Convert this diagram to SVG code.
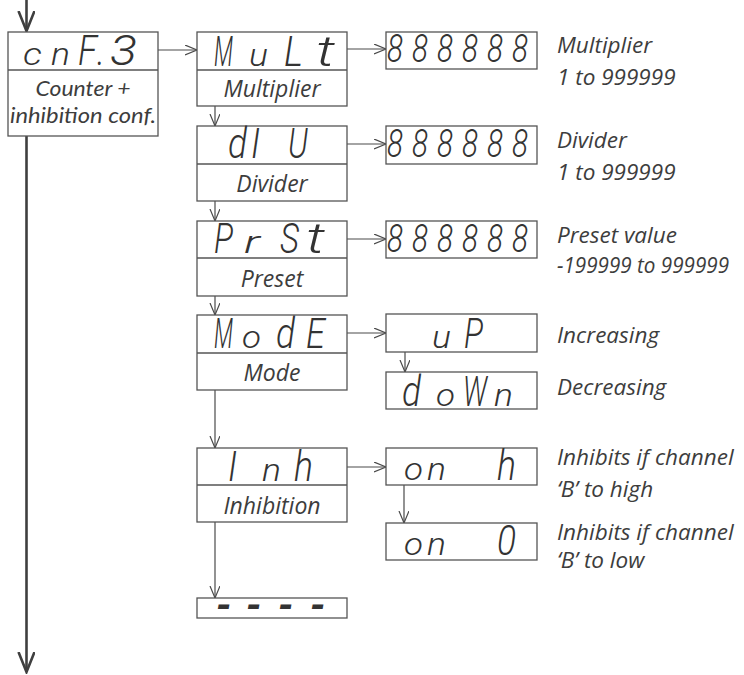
<svg xmlns="http://www.w3.org/2000/svg" width="744" height="675" viewBox="0 0 744 675">
<style>
.box{fill:#fff;stroke:#555;stroke-width:1.3}
.div{stroke:#555;stroke-width:1.3}
.con{fill:none;stroke:#4a4a4a;stroke-width:1.2}
.main{fill:none;stroke:#3f3f3f;stroke-width:2.6}
.seg{font-family:Roboto,"Liberation Sans",Arial,sans-serif;font-weight:300;font-style:italic;font-size:42px;fill:#333}
.lc{font-size:31px}
.dig{font-family:Roboto,"Liberation Sans",Arial,sans-serif;font-weight:300;font-style:italic;font-size:38px;fill:#333}
.lbl{font-family:"Open Sans","Liberation Sans",sans-serif;font-style:italic;font-size:22.5px;fill:#3d3d3d}
.blbl{font-size:23px}
.llbl{font-family:Lato,"Open Sans",sans-serif;font-size:22px}
.mid{text-anchor:middle}
</style>
<defs>
<marker id="ah" markerUnits="userSpaceOnUse" markerWidth="14" markerHeight="12" refX="12" refY="5" orient="auto" viewBox="0 0 14 12">
<path d="M0,0 L12,5 L0,10" fill="none" stroke="#4a4a4a" stroke-width="1.2"/>
</marker>
<marker id="ahm" markerUnits="userSpaceOnUse" markerWidth="22" markerHeight="18" refX="20" refY="8" orient="auto" viewBox="0 0 22 18">
<path d="M0,0 L20,8 L0,16" fill="none" stroke="#3f3f3f" stroke-width="2.6"/>
</marker>
</defs>

<g id="connectors">
<line class="main" x1="26.5" y1="0" x2="26.5" y2="31" marker-end="url(#ahm)"/>
<line class="main" x1="26.5" y1="136" x2="26.5" y2="672" marker-end="url(#ahm)"/>
<line class="con" x1="158" y1="50" x2="197" y2="50" marker-end="url(#ah)"/>
<line class="con" x1="347" y1="49" x2="386" y2="49" marker-end="url(#ah)"/>
<line class="con" x1="215" y1="106" x2="215" y2="126" marker-end="url(#ah)"/>
<line class="con" x1="347" y1="144" x2="386" y2="144" marker-end="url(#ah)"/>
<line class="con" x1="215" y1="201" x2="215" y2="221" marker-end="url(#ah)"/>
<line class="con" x1="347" y1="239" x2="386" y2="239" marker-end="url(#ah)"/>
<line class="con" x1="215" y1="296" x2="215" y2="315" marker-end="url(#ah)"/>
<line class="con" x1="347" y1="333" x2="386" y2="333" marker-end="url(#ah)"/>
<line class="con" x1="405" y1="352" x2="405" y2="372" marker-end="url(#ah)"/>
<line class="con" x1="215" y1="390" x2="215" y2="448" marker-end="url(#ah)"/>
<line class="con" x1="347" y1="467" x2="386" y2="467" marker-end="url(#ah)"/>
<line class="con" x1="404" y1="485" x2="404" y2="523" marker-end="url(#ah)"/>
<line class="con" x1="215" y1="522" x2="215" y2="598" marker-end="url(#ah)"/>
</g>

<g id="cnf3">
<rect class="box" x="8" y="32" width="150" height="104"/>
<line class="div" x1="8" y1="70" x2="158" y2="70"/>
<g transform="translate(23,65) scale(0.55,1)"><text class="seg" y="0"><tspan class="lc" x="0" textLength="34.5" lengthAdjust="spacingAndGlyphs">c</tspan><tspan class="lc" x="50.9" textLength="34.5" lengthAdjust="spacingAndGlyphs">n</tspan><tspan x="100" textLength="34.5" lengthAdjust="spacingAndGlyphs">F</tspan><tspan x="134.5" textLength="14.5" lengthAdjust="spacingAndGlyphs">.</tspan><tspan x="158.2" textLength="49" lengthAdjust="spacingAndGlyphs">3</tspan></text></g>
<text class="lbl llbl mid" x="83" y="96" textLength="95" lengthAdjust="spacingAndGlyphs">Counter +</text>
<text class="lbl llbl mid" x="83" y="123" textLength="146" lengthAdjust="spacingAndGlyphs">inhibition conf.</text>
</g>

<g id="mult">
<rect class="box" x="197" y="32" width="150" height="74"/>
<line class="div" x1="197" y1="70" x2="347" y2="70"/>
<g transform="translate(214,66) scale(0.55,1)"><text class="seg" y="0"><tspan x="0" textLength="34.5" lengthAdjust="spacingAndGlyphs">M</tspan><tspan class="lc" x="63.6" textLength="34.5" lengthAdjust="spacingAndGlyphs">u</tspan><tspan x="127.3" textLength="34.5" lengthAdjust="spacingAndGlyphs">L</tspan><tspan x="185.5" textLength="34.5" lengthAdjust="spacingAndGlyphs">t</tspan></text></g>
<text class="lbl blbl mid" x="272" y="97">Multiplier</text>
</g>

<g id="div">
<rect class="box" x="197" y="126" width="150" height="75"/>
<line class="div" x1="197" y1="164" x2="347" y2="164"/>
<g transform="translate(228,158) scale(0.55,1)"><text class="seg" y="0"><tspan x="0" textLength="34.5" lengthAdjust="spacingAndGlyphs">d</tspan><tspan x="41.8" textLength="16.4" lengthAdjust="spacingAndGlyphs">I</tspan><tspan x="109" textLength="36" lengthAdjust="spacingAndGlyphs">U</tspan></text></g>
<text class="lbl blbl mid" x="272" y="192">Divider</text>
</g>

<g id="prst">
<rect class="box" x="197" y="221" width="150" height="75"/>
<line class="div" x1="197" y1="258" x2="347" y2="258"/>
<g transform="translate(214,253) scale(0.55,1)"><text class="seg" y="0"><tspan x="0" textLength="34.5" lengthAdjust="spacingAndGlyphs">P</tspan><tspan class="lc" x="54.5" textLength="29" lengthAdjust="spacingAndGlyphs">r</tspan><tspan x="120" textLength="34.5" lengthAdjust="spacingAndGlyphs">S</tspan><tspan x="167.3" textLength="34.5" lengthAdjust="spacingAndGlyphs">t</tspan></text></g>
<text class="lbl blbl mid" x="272" y="287">Preset</text>
</g>

<g id="mode">
<rect class="box" x="197" y="315" width="150" height="75"/>
<line class="div" x1="197" y1="353" x2="347" y2="353"/>
<g transform="translate(214,348) scale(0.55,1)"><text class="seg" y="0"><tspan x="0" textLength="34.5" lengthAdjust="spacingAndGlyphs">M</tspan><tspan class="lc" x="50.9" textLength="34.5" lengthAdjust="spacingAndGlyphs">o</tspan><tspan x="112.7" textLength="34.5" lengthAdjust="spacingAndGlyphs">d</tspan><tspan x="167.3" textLength="34.5" lengthAdjust="spacingAndGlyphs">E</tspan></text></g>
<text class="lbl blbl mid" x="272" y="381">Mode</text>
</g>

<g id="inh">
<rect class="box" x="197" y="448" width="150" height="74"/>
<line class="div" x1="197" y1="485" x2="347" y2="485"/>
<g transform="translate(228,481) scale(0.55,1)"><text class="seg" y="0"><tspan x="0" textLength="16.4" lengthAdjust="spacingAndGlyphs">I</tspan><tspan class="lc" x="61.8" textLength="34.5" lengthAdjust="spacingAndGlyphs">n</tspan><tspan x="120" textLength="34.5" lengthAdjust="spacingAndGlyphs">h</tspan></text></g>
<text class="lbl blbl mid" x="272" y="514">Inhibition</text>
</g>

<g id="end">
<rect class="box" x="197" y="598" width="150" height="20"/>
<text class="seg" style="font-weight:bold;font-size:40px" x="216 246 278 310" y="619">----</text>
</g>

<g id="mult-val">
<rect class="box" x="386" y="32" width="151" height="37"/>
<g transform="translate(387,62) scale(0.55,1)"><text class="dig" y="0"><tspan x="0" textLength="29" lengthAdjust="spacingAndGlyphs">8</tspan><tspan x="45.5" textLength="29" lengthAdjust="spacingAndGlyphs">8</tspan><tspan x="90.9" textLength="29" lengthAdjust="spacingAndGlyphs">8</tspan><tspan x="136.4" textLength="29" lengthAdjust="spacingAndGlyphs">8</tspan><tspan x="181.8" textLength="29" lengthAdjust="spacingAndGlyphs">8</tspan><tspan x="227.3" textLength="29" lengthAdjust="spacingAndGlyphs">8</tspan></text></g>
<text class="lbl" x="557" y="53">Multiplier</text>
<text class="lbl" x="557" y="85">1 to 999999</text>
</g>

<g id="div-val">
<rect class="box" x="386" y="126" width="151" height="38"/>
<g transform="translate(387,157) scale(0.55,1)"><text class="dig" y="0"><tspan x="0" textLength="29" lengthAdjust="spacingAndGlyphs">8</tspan><tspan x="45.5" textLength="29" lengthAdjust="spacingAndGlyphs">8</tspan><tspan x="90.9" textLength="29" lengthAdjust="spacingAndGlyphs">8</tspan><tspan x="136.4" textLength="29" lengthAdjust="spacingAndGlyphs">8</tspan><tspan x="181.8" textLength="29" lengthAdjust="spacingAndGlyphs">8</tspan><tspan x="227.3" textLength="29" lengthAdjust="spacingAndGlyphs">8</tspan></text></g>
<text class="lbl" x="557" y="148">Divider</text>
<text class="lbl" x="557" y="180">1 to 999999</text>
</g>

<g id="prst-val">
<rect class="box" x="386" y="221" width="151" height="37"/>
<g transform="translate(387,252) scale(0.55,1)"><text class="dig" y="0"><tspan x="0" textLength="29" lengthAdjust="spacingAndGlyphs">8</tspan><tspan x="45.5" textLength="29" lengthAdjust="spacingAndGlyphs">8</tspan><tspan x="90.9" textLength="29" lengthAdjust="spacingAndGlyphs">8</tspan><tspan x="136.4" textLength="29" lengthAdjust="spacingAndGlyphs">8</tspan><tspan x="181.8" textLength="29" lengthAdjust="spacingAndGlyphs">8</tspan><tspan x="227.3" textLength="29" lengthAdjust="spacingAndGlyphs">8</tspan></text></g>
<text class="lbl" x="557" y="243">Preset value</text>
<text class="lbl" x="557" y="273" textLength="172" lengthAdjust="spacingAndGlyphs">-199999 to 999999</text>
</g>

<g id="up">
<rect class="box" x="386" y="314" width="151" height="38"/>
<g transform="translate(432,348) scale(0.55,1)"><text class="seg" y="0"><tspan class="lc" x="0" textLength="34.5" lengthAdjust="spacingAndGlyphs">u</tspan><tspan x="58.2" textLength="34.5" lengthAdjust="spacingAndGlyphs">P</tspan></text></g>
<text class="lbl" x="557" y="343">Increasing</text>
</g>

<g id="down">
<rect class="box" x="386" y="372" width="151" height="37"/>
<g transform="translate(402,406) scale(0.55,1)"><text class="seg" y="0"><tspan x="0" textLength="34.5" lengthAdjust="spacingAndGlyphs">d</tspan><tspan class="lc" x="61.8" textLength="34.5" lengthAdjust="spacingAndGlyphs">o</tspan><tspan x="110.9" textLength="43.6" lengthAdjust="spacingAndGlyphs">W</tspan><tspan class="lc" x="167.3" textLength="34.5" lengthAdjust="spacingAndGlyphs">n</tspan></text></g>
<text class="lbl" x="557" y="395">Decreasing</text>
</g>

<g id="onh">
<rect class="box" x="386" y="448" width="151" height="37"/>
<g transform="translate(404,480) scale(0.55,1)"><text class="seg" y="0"><tspan class="lc" x="0" textLength="34.5" lengthAdjust="spacingAndGlyphs">o</tspan><tspan class="lc" x="41.8" textLength="34.5" lengthAdjust="spacingAndGlyphs">n</tspan><tspan x="169.1" textLength="34.5" lengthAdjust="spacingAndGlyphs">h</tspan></text></g>
<text class="lbl" x="557" y="465">Inhibits if channel</text>
<text class="lbl" x="557" y="497">‘B’ to high</text>
</g>

<g id="on0">
<rect class="box" x="386" y="523" width="151" height="37"/>
<g transform="translate(404,555) scale(0.55,1)"><text class="seg" y="0"><tspan class="lc" x="0" textLength="34.5" lengthAdjust="spacingAndGlyphs">o</tspan><tspan class="lc" x="41.8" textLength="34.5" lengthAdjust="spacingAndGlyphs">n</tspan><tspan x="169.1" textLength="34.5" lengthAdjust="spacingAndGlyphs">0</tspan></text></g>
<text class="lbl" x="557" y="540">Inhibits if channel</text>
<text class="lbl" x="557" y="568">‘B’ to low</text>
</g>
</svg>
